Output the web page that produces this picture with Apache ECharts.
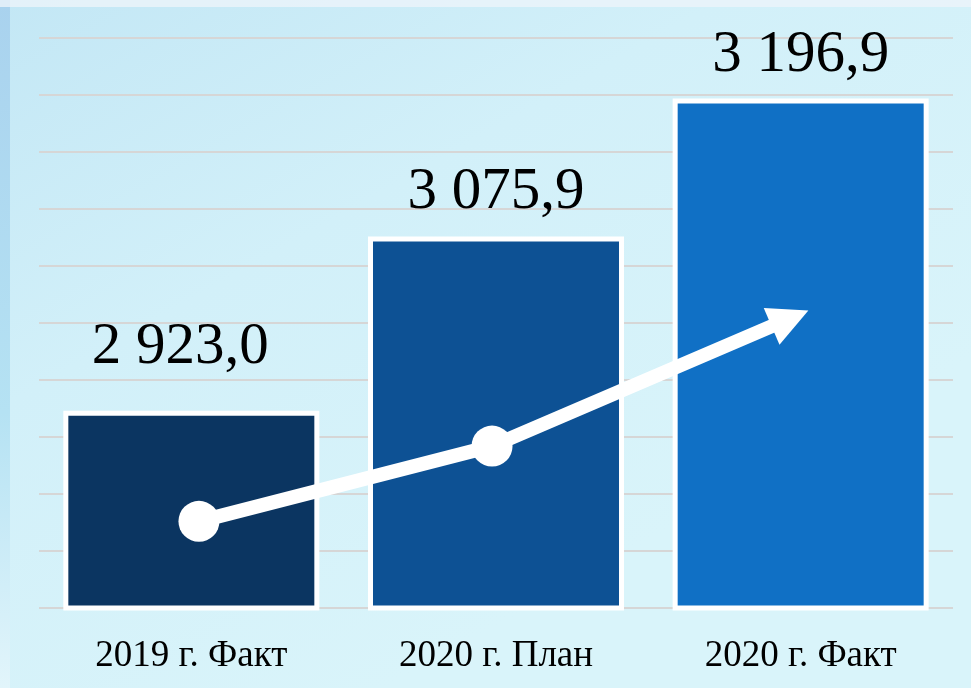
<!DOCTYPE html>
<html>
<head>
<meta charset="utf-8">
<script src="https://cdn.jsdelivr.net/npm/echarts@6/dist/echarts.min.js"></script>
<style>
  html, body { margin: 0; padding: 0; }
  #main { width: 971px; height: 688px; }
</style>
</head>
<body>
<div id="main"></div>
<script>
// данные
const categories = ['2019 г. Факт', '2020 г. План', '2020 г. Факт'];
const values = [2923.0, 3075.9, 3196.9];
// стрелка тренда (x — в долях категорий, y — в единицах оси)
const trendX = [0.525, 1.487, 2.465];
const trendY = [2826, 2892, 3004];

const barColors = ['#0b3561', '#0d5194', '#1070c5'];
// сдвиг подписи первого столбца, как на слайде
const labelOffsets = [[-11, -20], [0, 0], [0, 0]];

const fmt = v => {
  const parts = v.toFixed(1).split('.');
  return parts[0].replace(/\B(?=(\d{3})+(?!\d))/g, ' ') + ',' + parts[1];
};

const myChart = echarts.init(document.getElementById('main'));

const trendData = trendX.map((x, i) => {
  const last = i === trendX.length - 1;
  return {
    value: [x, trendY[i]],
    symbol: last ? 'triangle' : 'circle',
    symbolSize: last ? [40, 40] : 41,
    symbolRotate: last ? -66.8 : 0
  };
});

const option = {
  animation: false,
  backgroundColor: {
    type: 'linear', x: 0, y: 0, x2: 0.4, y2: 1,
    colorStops: [
      { offset: 0, color: '#c3e7f5' },
      { offset: 0.45, color: '#d2f0f9' },
      { offset: 1, color: '#d9f4fa' }
    ]
  },
  graphic: [
    {
      type: 'rect', left: 0, top: 0, z: -10,
      shape: { width: 10, height: 688 },
      style: {
        fill: {
          type: 'linear', x: 0, y: 0, x2: 0, y2: 1,
          colorStops: [
            { offset: 0, color: '#a9d2ee' },
            { offset: 0.6, color: '#b5e2f3' },
            { offset: 1, color: '#e2f5fb' }
          ]
        }
      }
    },
    {
      type: 'rect', left: 0, top: 0, z: -10,
      shape: { width: 971, height: 7 },
      style: { fill: 'rgba(236,244,250,0.8)' }
    }
  ],
  grid: { left: 39, right: 18, top: 38, bottom: 80 },
  xAxis: [
    {
      type: 'category',
      data: categories,
      axisLine: { show: false },
      axisTick: { show: false },
      axisLabel: {
        color: '#000',
        fontFamily: 'Liberation Serif',
        fontSize: 37,
        margin: 30
      }
    },
    { type: 'value', min: 0, max: 3, show: false }
  ],
  yAxis: {
    type: 'value',
    min: 2750,
    max: 3250,
    interval: 50,
    axisLabel: { show: false },
    axisLine: { show: false },
    axisTick: { show: false },
    splitLine: { lineStyle: { color: '#d6d6d6', width: 2 } }
  },
  series: [
    {
      type: 'bar',
      barWidth: 256,
      data: values.map((v, i) => ({
        value: v,
        itemStyle: { color: barColors[i] },
        label: { offset: labelOffsets[i] }
      })),
      itemStyle: { borderColor: '#fff', borderWidth: 5 },
      label: {
        show: true,
        position: 'top',
        distance: 14,
        color: '#000',
        fontFamily: 'Liberation Serif',
        fontSize: 59,
        formatter: p => fmt(p.value)
      }
    },
    {
      type: 'line',
      xAxisIndex: 1,
      data: trendData,
      symbolKeepAspect: true,
      lineStyle: { color: '#fff', width: 14 },
      itemStyle: { color: '#fff' },
      z: 5
    }
  ]
};

myChart.setOption(option);
</script>
</body>
</html>
